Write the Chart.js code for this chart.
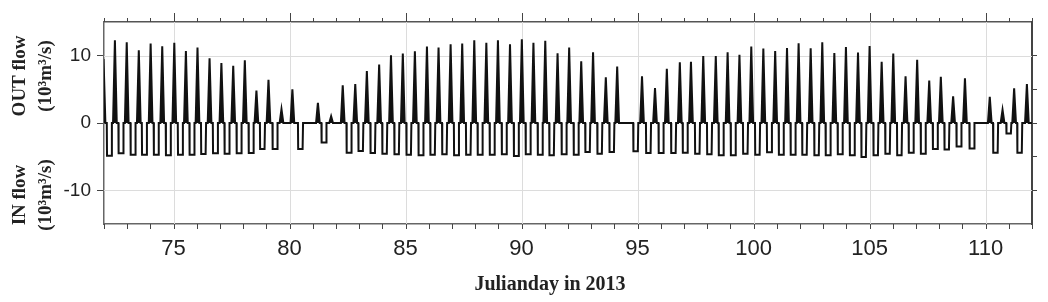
<!DOCTYPE html>
<html>
<head>
<meta charset="utf-8">
<script src="https://cdn.jsdelivr.net/npm/chart.js@4.4.1/dist/chart.umd.min.js"></script>
<style>
  html, body { margin: 0; padding: 0; background: #fff; }
</style>
</head>
<body>
<canvas id="flowChart" width="1048" height="302"></canvas>
<script>
// outflow peaks (day, 10^3 m3/s)
const outDay = [71.98, 72.47, 72.98, 73.50, 74.01, 74.51, 75.03, 75.53, 76.03, 76.55, 77.06,
  77.57, 78.07, 78.57, 79.09, 79.65, 80.12, 81.22, 81.79, 82.29, 82.83, 83.33, 83.86,
  84.37, 84.88, 85.40, 85.92, 86.42, 86.94, 87.44, 87.96, 88.48, 88.98, 89.50, 90.01,
  90.51, 91.02, 91.55, 92.05, 92.57, 93.08, 93.63, 94.12, 95.19, 95.75, 96.26, 96.82,
  97.30, 97.83, 98.37, 98.88, 99.39, 99.90, 100.42, 100.93, 101.44, 101.94, 102.46,
  102.96, 103.48, 103.98, 104.50, 105.00, 105.52, 106.02, 106.55, 107.05, 107.57,
  108.07, 108.60, 109.11, 110.18, 110.73, 111.23, 111.78];
const outPeak = [9.5, 12.3, 12.0, 10.8, 11.8, 11.4, 11.9, 10.7, 11.2, 9.6, 8.9,
  8.5, 9.3, 4.8, 6.4, 2.05, 5.0, 3.0, 1.0, 5.6, 5.8, 7.7, 8.7,
  10.05, 10.3, 10.65, 11.35, 11.2, 11.7, 11.8, 12.3, 11.9, 12.3, 11.7, 12.45,
  11.9, 12.2, 10.35, 11.2, 9.15, 10.5, 6.8, 8.4, 6.95, 5.2, 8.05, 9.0,
  9.1, 9.95, 9.95, 10.5, 10.15, 11.35, 11.05, 10.7, 11.15, 11.85, 11.1,
  12.0, 10.4, 11.3, 10.45, 11.45, 9.1, 10.3, 6.95, 9.4, 6.3,
  6.85, 3.95, 6.65, 3.9, 1.95, 5.15, 5.8];

// inflow pulses (day, 10^3 m3/s)
const inDay = [72.23, 72.73, 73.25, 73.74, 74.25, 74.77, 75.29, 75.79, 76.29, 76.80,
  77.30, 77.82, 78.34, 78.83, 79.37, 80.47, 81.48, 82.56, 83.07, 83.59, 84.10,
  84.62, 85.14, 85.66, 86.17, 86.68, 87.19, 87.71, 88.21, 88.73, 89.25, 89.77,
  90.28, 90.80, 91.30, 91.83, 92.35, 92.85, 93.37, 93.89, 94.92, 95.47, 96.01,
  96.55, 97.05, 97.58, 98.10, 98.60, 99.12, 99.65, 100.17, 100.68, 101.19, 101.70,
  102.20, 102.72, 103.21, 103.73, 104.25, 104.75, 105.27, 105.78, 106.29, 106.79,
  107.31, 107.83, 108.33, 108.85, 109.41, 110.43, 111.00, 111.47];
const inFlow = [-4.85, -4.5, -4.7, -4.7, -4.7, -4.8, -4.7, -4.7, -4.6, -4.5,
  -4.55, -4.5, -4.45, -3.85, -3.85, -3.85, -2.9, -4.4, -4.15, -4.45, -4.55,
  -4.65, -4.7, -4.8, -4.7, -4.65, -4.8, -4.7, -4.7, -4.7, -4.65, -4.9,
  -4.65, -4.7, -4.8, -4.65, -4.7, -4.3, -4.55, -4.3, -4.2, -4.45, -4.45,
  -4.45, -4.4, -4.55, -4.65, -4.8, -4.8, -4.55, -4.7, -4.35, -4.7, -4.7,
  -4.7, -4.8, -4.8, -4.65, -4.8, -5.05, -4.8, -4.55, -4.8, -4.4,
  -4.55, -3.85, -3.95, -3.5, -3.8, -4.4, -1.55, -4.4];

const xLabelDays = [75, 80, 85, 90, 95, 100, 105, 110];
const yLabelValues = [-10, 0, 10];
const yGridValues = [-10, 10];
const yRightTicks = [-10, -5, 0, 5, 10];
const dayTicks = [];
for (let d = 72; d <= 112; d++) dayTicks.push(d);

// turn the peaks and pulses into one outline, pinned to zero between them
const events = [];
outDay.forEach((d, i) => events.push({ d: d, kind: "out", v: outPeak[i] }));
inDay.forEach((d, i) => events.push({ d: d, kind: "in", v: inFlow[i] }));
events.sort((a, b) => a.d - b.d);

const points = [];
events.forEach((e) => {
  if (e.kind === "out") {
    points.push({ x: e.d - 0.08, y: 0 }, { x: e.d, y: e.v }, { x: e.d + 0.08, y: 0 });
  } else {
    points.push({ x: e.d - 0.11, y: 0 }, { x: e.d - 0.1, y: e.v },
      { x: e.d + 0.09, y: e.v }, { x: e.d + 0.11, y: 0 });
  }
});
points.push({ x: 112.3, y: 0 });

const tickFont = { family: "'Liberation Sans', Arial, sans-serif" };
const serifBold = "bold 19px 'Liberation Serif', 'Times New Roman', serif";
const noLine = "rgba(0,0,0,0)";

function vline(ctx, x, y1, y2) {
  ctx.beginPath();
  ctx.moveTo(x, y1);
  ctx.lineTo(x, y2);
  ctx.stroke();
}

const extras = {
  id: "extras",
  beforeDatasetsDraw(chart) {
    const ctx = chart.ctx;
    const area = chart.chartArea;
    const xs = chart.scales.x;
    const ys = chart.scales.y;
    ctx.save();
    ctx.strokeStyle = "#dcdcdc";
    ctx.lineWidth = 1;
    xLabelDays.forEach((d) => {
      vline(ctx, Math.round(xs.getPixelForValue(d)) + 0.5, area.top, area.bottom);
    });
    yGridValues.forEach((v) => {
      const py = Math.round(ys.getPixelForValue(v)) + 0.5;
      ctx.beginPath();
      ctx.moveTo(area.left, py);
      ctx.lineTo(area.right, py);
      ctx.stroke();
    });
    ctx.restore();
  },
  afterDraw(chart) {
    const ctx = chart.ctx;
    const area = chart.chartArea;
    const xs = chart.scales.x;

    // day ticks along top and bottom, longer on top at the labelled days
    ctx.save();
    ctx.strokeStyle = "#444";
    ctx.lineWidth = 1;
    dayTicks.forEach((d) => {
      const px = Math.round(xs.getPixelForValue(d)) + 0.5;
      const topLen = xLabelDays.includes(d) ? 9 : 4;
      vline(ctx, px, area.top - topLen, area.top);
      vline(ctx, px, area.bottom, area.bottom + 5);
    });
    ctx.restore();

    ctx.save();
    ctx.fillStyle = "#222";
    ctx.textAlign = "center";
    ctx.textBaseline = "middle";

    // x title (sits a bit left of the plot centre in the original)
    ctx.font = "bold 20px 'Liberation Serif', 'Times New Roman', serif";
    ctx.fillText("Julianday in 2013", 550, 285);

    // two-part y title
    ctx.font = serifBold;
    const titles = [
      { y: 76, lines: ["OUT flow", "(10³m³/s)"] },
      { y: 195, lines: ["IN flow", "(10³m³/s)"] },
    ];
    titles.forEach((t) => {
      [20, 46].forEach((x, i) => {
        ctx.save();
        ctx.translate(x, t.y);
        ctx.rotate(-Math.PI / 2);
        ctx.fillText(t.lines[i], 0, 0);
        ctx.restore();
      });
    });
    ctx.restore();
  },
};

new Chart(document.getElementById("flowChart"), {
  type: "line",
  data: {
    datasets: [
      {
        label: "Flow",
        data: points,
        borderColor: "#111",
        borderWidth: 2,
        pointRadius: 0,
        tension: 0,
        fill: { target: "origin", above: "#111", below: noLine },
      },
    ],
  },
  options: {
    responsive: false,
    animation: false,
    layout: { padding: 0 },
    scales: {
      x: {
        type: "linear",
        position: "bottom",
        min: 72,
        max: 112,
        afterBuildTicks: (s) => { s.ticks = xLabelDays.map((v) => ({ value: v })); },
        afterFit: (s) => { s.height = 78; },
        ticks: {
          autoSkip: false,
          maxRotation: 0,
          padding: 4,
          color: "#222",
          font: { ...tickFont, size: 22 },
        },
        grid: { display: false },
        border: { color: "#666", width: 1.5 },
      },
      x2: {
        type: "linear",
        position: "top",
        min: 72,
        max: 112,
        afterFit: (s) => { s.height = 22; },
        ticks: { display: false },
        grid: { display: false },
        border: { color: "#555", width: 1.5 },
      },
      y: {
        type: "linear",
        position: "left",
        min: -15,
        max: 15,
        afterBuildTicks: (s) => { s.ticks = yLabelValues.map((v) => ({ value: v })); },
        afterFit: (s) => { s.width = 104; },
        ticks: {
          padding: 6,
          color: "#222",
          font: { ...tickFont, size: 19 },
        },
        grid: { drawOnChartArea: false, color: noLine, tickColor: "#444", tickLength: 7 },
        border: { color: "#666", width: 1.5 },
      },
      y2: {
        type: "linear",
        position: "right",
        min: -15,
        max: 15,
        afterBuildTicks: (s) => { s.ticks = yRightTicks.map((v) => ({ value: v })); },
        afterFit: (s) => { s.width = 16; },
        ticks: { display: false },
        grid: { drawOnChartArea: false, color: noLine, tickColor: "#444", tickLength: 5 },
        border: { color: "#444", width: 2 },
      },
    },
    plugins: {
      legend: { display: false },
      tooltip: { enabled: false },
    },
  },
  plugins: [extras],
});
</script>
</body>
</html>
